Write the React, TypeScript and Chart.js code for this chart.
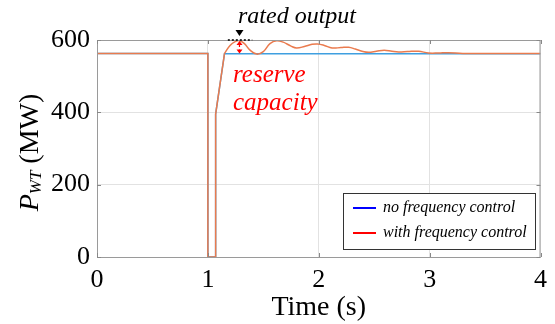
import React, { useEffect, useRef } from "react";
import { Chart, registerables } from "chart.js";
Chart.register(...registerables);

const xTickValues = [0, 1, 2, 3, 4];
const yTickValues = [0, 200, 400, 600];

// "with frequency control" — step part (sharp) and oscillating part (smooth)
const stepTime = [0, 1.0, 1.0, 1.07, 1.07, 1.15];
const stepPower = [563, 563, 0, 0, 395, 563];
const oscTime = [1.15, 1.2, 1.25, 1.285, 1.33, 1.38, 1.44, 1.5, 1.56, 1.62, 1.68, 1.75, 1.8, 1.87, 1.94, 1.99, 2.05, 2.12, 2.2, 2.27, 2.33, 2.39, 2.45, 2.52, 2.59, 2.66, 2.72, 2.8, 2.9, 2.99, 3.08, 3.17, 3.3, 4.0];
const oscPower = [563, 585, 596, 598, 590, 572, 561, 568, 590, 598, 594, 583, 578, 582, 588, 589, 585, 578, 579, 580, 575, 569, 566, 569, 572, 569, 567, 568, 569, 564, 564, 565, 563, 563];

// "no frequency control"
const noCtrlTime = [0, 1.0, 1.0, 1.07, 1.07, 1.15, 4.0];
const noCtrlPower = [563, 563, 0, 0, 395, 562, 562];

const legendLabels = ["no frequency control", "with frequency control"];
const legendColors = ["#0000ff", "#ff0000"];

const SERIF = '"Liberation Serif", "Times New Roman", serif';
const ORANGE = "#ea7b4e";
const BLUE = "#3f9fe0";

const toXY = (xs: number[], ys: number[]) => xs.map((x, i) => ({ x, y: ys[i] }));

const overlay = {
  id: "overlay",
  afterDraw(chart: any) {
    const ctx = chart.ctx as CanvasRenderingContext2D;
    const { left, right, top, bottom } = chart.chartArea;
    const xs = chart.scales.x;
    const ys = chart.scales.y;
    ctx.save();
    // box
    ctx.strokeStyle = "#9a9a9a";
    ctx.lineWidth = 1;
    ctx.strokeRect(left + 0.5, top + 0.5, right - left - 1, bottom - top);
    // inward tick marks
    ctx.strokeStyle = "#888";
    xTickValues.forEach((v) => {
      const px = Math.round(xs.getPixelForValue(v)) + 0.5;
      ctx.beginPath();
      ctx.moveTo(px, bottom);
      ctx.lineTo(px, bottom - 4);
      ctx.moveTo(px, top);
      ctx.lineTo(px, top + 4);
      ctx.stroke();
    });
    yTickValues.forEach((v) => {
      const py = Math.round(ys.getPixelForValue(v)) + 0.5;
      ctx.beginPath();
      ctx.moveTo(left, py);
      ctx.lineTo(left + 4, py);
      ctx.moveTo(right, py);
      ctx.lineTo(right - 4, py);
      ctx.stroke();
    });

    // y-axis title: P_WT (MW)
    ctx.save();
    ctx.translate(31, (top + bottom) / 2 + 4);
    ctx.rotate(-Math.PI / 2);
    ctx.fillStyle = "#000";
    ctx.textBaseline = "middle";
    ctx.textAlign = "left";
    const fBig = `italic 28px ${SERIF}`;
    const fSub = `italic 17px ${SERIF}`;
    const fNorm = `28px ${SERIF}`;
    ctx.font = fBig;
    const wP = ctx.measureText("P").width;
    ctx.font = fSub;
    const wSub = ctx.measureText("WT").width;
    ctx.font = fNorm;
    const wRest = ctx.measureText(" (MW)").width;
    let cx = -(wP + wSub + wRest) / 2;
    ctx.font = fBig;
    ctx.fillText("P", cx, 0);
    cx += wP;
    ctx.font = fSub;
    ctx.fillText("WT", cx, 6);
    cx += wSub;
    ctx.font = fNorm;
    ctx.fillText(" (MW)", cx, 0);
    ctx.restore();

    // annotations
    const xPeak = xs.getPixelForValue(1.285);
    const yRated = ys.getPixelForValue(600);
    const yBase = ys.getPixelForValue(563);
    ctx.strokeStyle = "#000";
    ctx.lineWidth = 1.5;
    ctx.setLineDash([2, 2]);
    ctx.beginPath();
    ctx.moveTo(xs.getPixelForValue(1.18), yRated);
    ctx.lineTo(xs.getPixelForValue(1.4), yRated);
    ctx.stroke();
    ctx.setLineDash([]);
    // arrow from text to dotted line
    ctx.fillStyle = "#000";
    ctx.beginPath();
    ctx.moveTo(xPeak - 4, yRated - 10);
    ctx.lineTo(xPeak + 4, yRated - 10);
    ctx.lineTo(xPeak, yRated - 4);
    ctx.closePath();
    ctx.fill();
    // red double arrow
    ctx.strokeStyle = "#ff0000";
    ctx.fillStyle = "#ff0000";
    ctx.lineWidth = 1.2;
    ctx.setLineDash([2, 2]);
    ctx.beginPath();
    ctx.moveTo(xPeak, yRated + 5);
    ctx.lineTo(xPeak, yBase - 4);
    ctx.stroke();
    ctx.setLineDash([]);
    ctx.beginPath();
    ctx.moveTo(xPeak - 3, yRated + 5);
    ctx.lineTo(xPeak + 3, yRated + 5);
    ctx.lineTo(xPeak, yRated + 1);
    ctx.closePath();
    ctx.fill();
    ctx.beginPath();
    ctx.moveTo(xPeak - 3, yBase - 4);
    ctx.lineTo(xPeak + 3, yBase - 4);
    ctx.lineTo(xPeak, yBase);
    ctx.closePath();
    ctx.fill();

    ctx.textBaseline = "middle";
    ctx.textAlign = "left";
    ctx.fillStyle = "#000";
    ctx.font = `italic 24px ${SERIF}`;
    ctx.fillText("rated output", 238, 17);
    ctx.fillStyle = "#ff0000";
    ctx.font = `italic 25px ${SERIF}`;
    ctx.fillText("reserve", 233, 75);
    ctx.fillText("capacity", 233, 103);

    // legend
    const lx = 343, ly = 193, lw = 192, lh = 56;
    ctx.fillStyle = "#fff";
    ctx.fillRect(lx, ly, lw, lh);
    ctx.strokeStyle = "#333";
    ctx.lineWidth = 1;
    ctx.strokeRect(lx + 0.5, ly + 0.5, lw, lh);
    ctx.font = `italic 16px ${SERIF}`;
    legendLabels.forEach((lab, i) => {
      const yy = ly + 15 + i * 25;
      ctx.strokeStyle = legendColors[i];
      ctx.lineWidth = 2;
      ctx.beginPath();
      ctx.moveTo(lx + 10, yy);
      ctx.lineTo(lx + 33, yy);
      ctx.stroke();
      ctx.fillStyle = "#000";
      ctx.fillText(lab, lx + 40, yy);
    });
    ctx.restore();
  },
};

export default function App() {
  const ref = useRef<HTMLCanvasElement | null>(null);
  useEffect(() => {
    document.body.style.margin = "0";
    const chart = new Chart(ref.current as HTMLCanvasElement, {
      type: "line",
      data: {
        datasets: [
          {
            label: "with frequency control",
            data: toXY(stepTime, stepPower),
            borderColor: ORANGE,
            borderWidth: 1.5,
            pointRadius: 0,
            tension: 0,
          },
          {
            label: "with frequency control (osc)",
            data: toXY(oscTime, oscPower),
            borderColor: ORANGE,
            borderWidth: 1.5,
            pointRadius: 0,
            tension: 0.4,
          },
          {
            label: "no frequency control",
            data: toXY(noCtrlTime, noCtrlPower),
            borderColor: BLUE,
            borderWidth: 1.5,
            pointRadius: 0,
            tension: 0,
          },
        ],
      },
      options: {
        animation: false,
        responsive: false,
        layout: { padding: { left: 0, right: 13, top: 40, bottom: 0 } },
        plugins: { legend: { display: false }, tooltip: { enabled: false } },
        scales: {
          x: {
            type: "linear",
            min: 0,
            max: 4,
            afterFit: (s: any) => { s.height = 67; },
            afterBuildTicks: (s: any) => { s.ticks = xTickValues.map((v) => ({ value: v })); },
            grid: { color: "#e2e2e2", drawTicks: false },
            border: { display: false },
            ticks: { color: "#000", font: { family: SERIF, size: 26 }, padding: 8 },
            title: {
              display: true,
              text: "Time (s)",
              color: "#000",
              font: { family: SERIF, size: 28 },
              padding: { top: 0, bottom: 0 },
            },
          },
          y: {
            type: "linear",
            min: 0,
            max: 600,
            afterFit: (s: any) => { s.width = 97; },
            afterBuildTicks: (s: any) => { s.ticks = yTickValues.map((v) => ({ value: v })); },
            grid: { color: "#e2e2e2", drawTicks: false },
            border: { display: false },
            ticks: { color: "#000", font: { family: SERIF, size: 26 }, padding: 7 },
          },
        },
      },
      plugins: [overlay],
    });
    return () => chart.destroy();
  }, []);
  return (
    <div style={{ width: 555, height: 324 }}>
      <canvas ref={ref} width={555} height={324} style={{ display: "block" }} />
    </div>
  );
}
